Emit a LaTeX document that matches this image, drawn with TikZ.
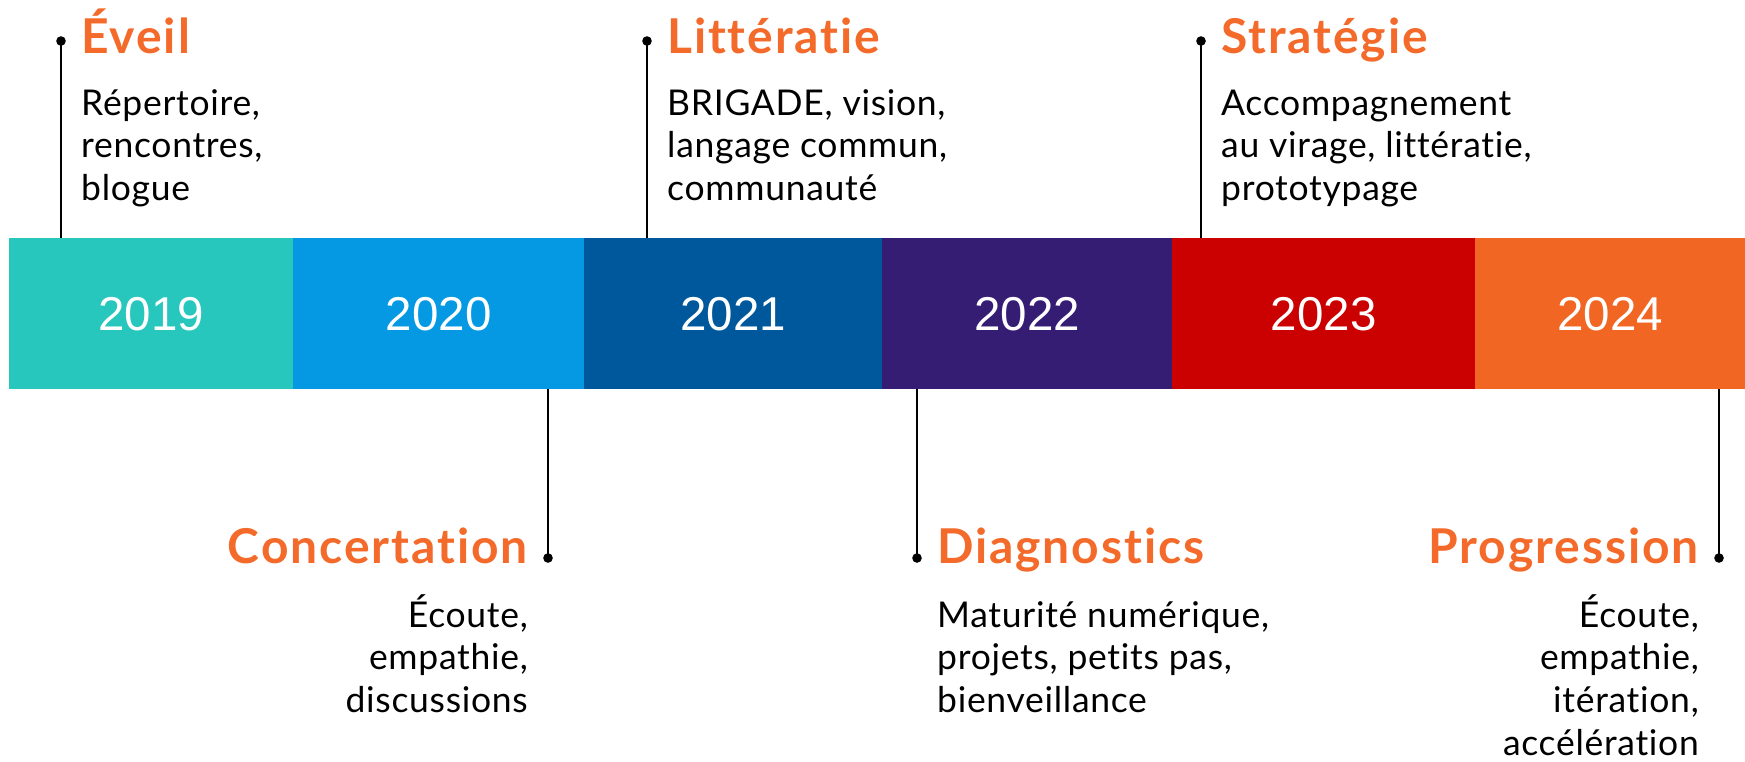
\documentclass[tikz,border=0pt]{standalone}
\usepackage{fontspec}
\setmainfont{Lato}
\newfontfamily\yearfont{Liberation Sans}
\newfontfamily\ttlfont{Lato}[LetterSpace=4, Ligatures={NoCommon}]
\newfontfamily\bodyfont{Lato}[LetterSpace=2, Ligatures={NoCommon}]
\definecolor{c19}{HTML}{27C7BE}
\definecolor{c20}{HTML}{0499E2}
\definecolor{c21}{HTML}{00589C}
\definecolor{c22}{HTML}{361D74}
\definecolor{c23}{HTML}{CB0000}
\definecolor{c24}{HTML}{F26624}
\definecolor{ttl}{HTML}{F36A2A}
\tikzset{
  seg/.style={rectangle, inner sep=0pt, minimum height=151pt, anchor=north west,
    text=white, font=\yearfont\fontsize{47.5}{50}\selectfont},
  ttlnode/.style={inner sep=0pt, text=ttl, font=\ttlfont\fontsize{48}{56}\selectfont\bfseries},
  bodynode/.style={inner sep=0pt, text=black, font=\bodyfont\fontsize{35.5}{42.7}\selectfont},
  conn/.style={line width=2.4pt, draw=black},
  dotc/.style={fill=black}
}
\newcommand{\linesL}[1]{\begin{tabular}[t]{@{}l@{}}#1\end{tabular}}
\newcommand{\linesR}[1]{\begin{tabular}[t]{@{}r@{}}#1\end{tabular}}
\begin{document}
\begin{tikzpicture}[x=1pt,y=-1pt]
\useasboundingbox (0,0) rectangle (1745,761);
% bar segments
\node[seg, fill=c19, minimum width=284pt] (s19) at (9,238) {2019};
\node[seg, fill=c20, minimum width=291pt] (s20) at (293,238) {2020};
\node[seg, fill=c21, minimum width=298pt] (s21) at (584,238) {2021};
\node[seg, fill=c22, minimum width=290pt] (s22) at (882,238) {2022};
\node[seg, fill=c23, minimum width=303pt] (s23) at (1172,238) {2023};
\node[seg, fill=c24, minimum width=270pt] (s24) at (1475,238) {2024};
% dots
\coordinate (d1) at (61,41);
\coordinate (d2) at (548,558);
\coordinate (d3) at (647,41);
\coordinate (d4) at (917,558);
\coordinate (d5) at (1201,41);
\coordinate (d6) at (1719,558);
% connectors
\draw[conn] (d1) -- (d1 |- s19.north);
\draw[conn] (s20.south -| d2) -- (d2);
\draw[conn] (d3) -- (d3 |- s21.north);
\draw[conn] (s22.south -| d4) -- (d4);
\draw[conn] (d5) -- (d5 |- s23.north);
\draw[conn] (s24.south -| d6) -- (d6);
\foreach \d in {d1,d2,d3,d4,d5,d6} \fill[dotc] (\d) circle (4.8pt);
% titles
\node[ttlnode, anchor=base west] (t1) at (81,53) {Éveil};
\node[ttlnode, anchor=base west] (t3) at (667,53) {Littératie};
\node[ttlnode, anchor=base west] (t5) at (1221,53) {Stratégie};
\node[ttlnode, anchor=base east] (t2) at (528,563) {Concertation};
\node[ttlnode, anchor=base west] (t4) at (937,563) {Diagnostics};
\node[ttlnode, anchor=base east] (t6) at (1699,563) {Progression};
% bodies
\node[bodynode, anchor=base west] (b1) at (81,115) {\linesL{Répertoire,\\rencontres,\\blogue}};
\node[bodynode, anchor=base west] (b3) at (667,115) {\linesL{BRIGADE, vision,\\langage commun,\\communauté}};
\node[bodynode, anchor=base west] (b5) at (1221,115) {\linesL{Accompagnement\\au virage, littératie,\\prototypage}};
\node[bodynode, anchor=base east] (b2) at (528,627) {\linesR{Écoute,\\empathie,\\discussions}};
\node[bodynode, anchor=base west] (b4) at (937,627) {\linesL{Maturité numérique,\\projets, petits pas,\\bienveillance}};
\node[bodynode, anchor=base east] (b6) at (1699,627) {\linesR{Écoute,\\empathie,\\itération,\\accélération}};
\end{tikzpicture}
\end{document}
